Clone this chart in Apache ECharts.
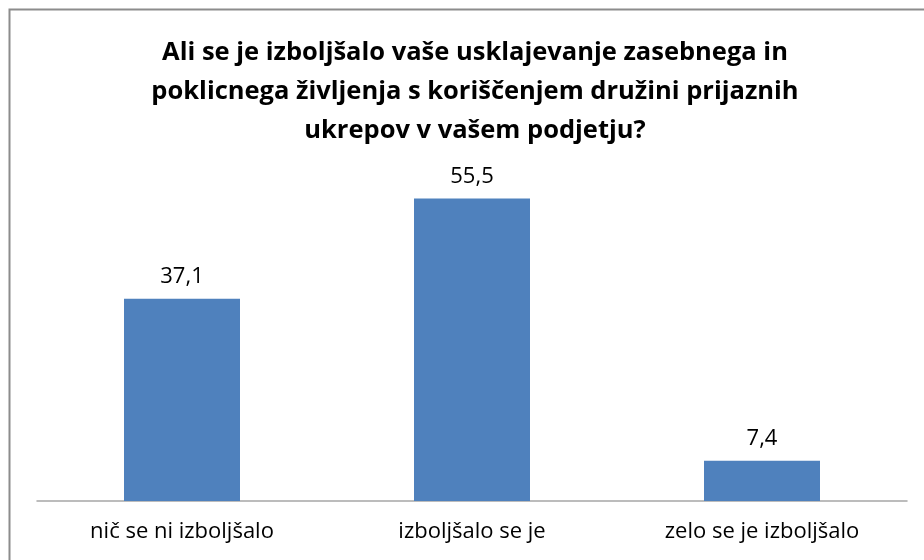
<!DOCTYPE html>
<html>
<head>
<meta charset="utf-8">
<script src="https://cdn.jsdelivr.net/npm/echarts@6/dist/echarts.min.js"></script>
<style>
  html, body { margin: 0; padding: 0; background: #fff; }
  #chart { width: 924px; height: 560px; }
</style>
</head>
<body>
<div id="chart"></div>
<script>
const titleText = 'Ali se je izboljšalo vaše usklajevanje zasebnega in\npoklicnega življenja s koriščenjem družini prijaznih\nukrepov v vašem podjetju?'
const categories = ['nič se ni izboljšalo', 'izboljšalo se je', 'zelo se je izboljšalo']
const values = [37.1, 55.5, 7.4]

const chart = echarts.init(document.getElementById('chart'))
chart.setOption({
  animation: false,
  title: {
    text: titleText,
    left: 470,
    top: 28,
    textAlign: 'center',
    textStyle: {
      fontFamily: 'Open Sans',
      fontSize: 25.5,
      fontWeight: 'bold',
      color: '#000',
      lineHeight: 39
    }
  },
  graphic: [
    {
      type: 'rect',
      shape: { x: 9.5, y: 9.5, width: 1000, height: 1000 },
      style: { fill: 'none', stroke: '#8c8c8c', lineWidth: 2 }
    }
  ],
  grid: {
    left: 37,
    right: 17,
    top: 174,
    bottom: 59
  },
  xAxis: {
    type: 'category',
    data: categories,
    axisTick: { show: false },
    axisLine: { lineStyle: { color: '#a6a6a6', width: 1.5 } },
    axisLabel: {
      color: '#000',
      fontFamily: 'Open Sans',
      fontSize: 22,
      margin: 20
    }
  },
  yAxis: {
    type: 'value',
    min: 0,
    max: 60,
    show: false
  },
  series: [
    {
      type: 'bar',
      data: values,
      barWidth: '40%',
      itemStyle: { color: '#4f81bd' },
      label: {
        show: true,
        position: 'top',
        distance: 11,
        color: '#000',
        fontFamily: 'Open Sans',
        fontSize: 22,
        formatter: (p) => String(p.value).replace('.', ',')
      }
    }
  ]
})
</script>
</body>
</html>
